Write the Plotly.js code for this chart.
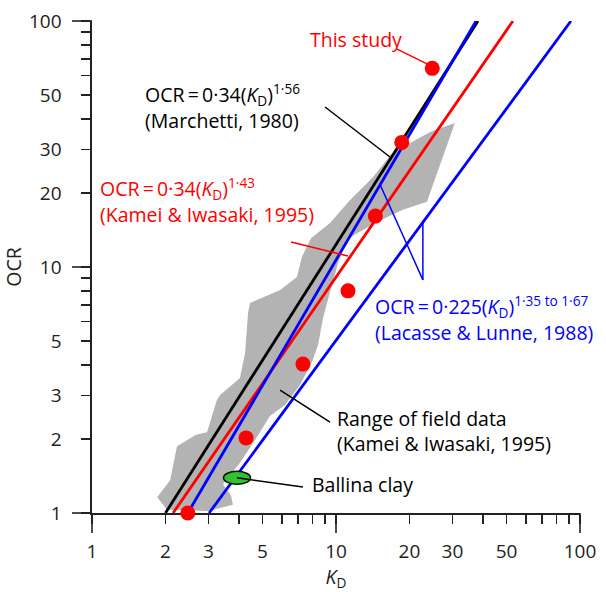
<!DOCTYPE html>
<html><head><meta charset="utf-8">
<script src="https://cdn.plot.ly/plotly-3.0.1.min.js"></script>
<style>html,body{margin:0;padding:0;background:#fff}#chart{width:606px;height:592px}</style>
</head><body><div id="chart"></div>
<script>
// Range of field data (Kamei & Iwasaki, 1995) – outline of grey band
const fieldRangeKD = [1.85, 2.03, 2.99, 3.78, 3.71, 3.44, 4.04, 4.66, 5.36, 6.18, 7.12, 7.97, 8.44, 8.85, 9.45, 10.2, 11.1, 12.0, 15.2, 18.8, 23.6, 30.7, 24.3, 17.0, 14.2, 11.4, 9.45, 7.90, 7.25, 6.92, 5.90, 4.97, 4.44, 4.36, 4.24, 4.04, 3.35, 3.25, 3.10, 2.96, 2.67, 2.23, 2.09];
const fieldRangeOCR = [1.16, 1.03, 1.02, 1.08, 1.18, 1.31, 1.60, 1.98, 2.48, 2.75, 3.31, 4.11, 4.82, 6.20, 7.91, 10.4, 12.9, 13.6, 15.5, 17.1, 18.4, 38.5, 35.4, 29.1, 23.2, 18.7, 15.1, 13.1, 11.0, 9.11, 8.06, 7.48, 7.14, 6.50, 4.47, 3.54, 3.02, 2.88, 2.46, 2.13, 2.08, 1.87, 1.36];

// Correlation lines (end points)
const marchettiKD = [2.0, 38.2];
const marchettiOCR = [1, 100];
const kameiKD = [2.15, 53.1];
const kameiOCR = [1, 100];
const lacasseSteepKD = [2.47, 37.5];
const lacasseSteepOCR = [1, 100];
const lacasseFlatKD = [3.02, 91.8];
const lacasseFlatOCR = [1, 100];

// This study
const thisStudyKD = [2.47, 4.28, 7.32, 11.2, 14.5, 18.6, 24.8];
const thisStudyOCR = [1.0, 2.02, 4.03, 8.0, 16.1, 32.1, 64.2];

// Ballina clay
const ballinaKD = [3.93];
const ballinaOCR = [1.39];

// Ticks
const axisTickVals = [1,2,3,4,5,6,7,8,9,10,20,30,40,50,60,70,80,90,100];
const axisTickText = ['1','2','3','','5','','','','','10','20','30','','50','','','','','100'];
const decadeTicks = [1, 10, 100];

// Leader lines [KD, OCR] pairs
const leaderThisStudyKD = [17.8, 23.6];
const leaderThisStudyOCR = [76.9, 66.9];
const leaderMarchettiKD = [9.02, 16.65];
const leaderMarchettiOCR = [44.7, 28.0];
const leaderKameiKD = [6.54, 11.2];
const leaderKameiOCR = [12.64, 11.08];
const leaderLacasseKD = [15.2, 22.7, 22.7];
const leaderLacasseOCR = [21.5, 8.86, 15.4];
const leaderFieldKD = [5.9, 9.45];
const leaderFieldOCR = [3.16, 2.34];
const leaderBallinaKD = [3.93, 7.32];
const leaderBallinaOCR = [1.39, 1.275];

const RED = '#ff0000', BLUE = '#0000ff', BLACK = '#000000', AX = '#222222';
const FONT = 'Open Sans, sans-serif';
const plotW = 488, plotH = 492;
const pxPerDecadeX = 244, pxPerDecadeY = 246;

const traces = [
  {x: fieldRangeKD, y: fieldRangeOCR, mode: 'lines', fill: 'toself', fillcolor: '#b3b3b3', line: {width: 0, color: '#b3b3b3'}, hoverinfo: 'skip'},
  {x: marchettiKD, y: marchettiOCR, mode: 'lines', line: {color: BLACK, width: 2.8}},
  {x: kameiKD, y: kameiOCR, mode: 'lines', line: {color: RED, width: 2.8}},
  {x: lacasseSteepKD, y: lacasseSteepOCR, mode: 'lines', line: {color: BLUE, width: 2.8}},
  {x: lacasseFlatKD, y: lacasseFlatOCR, mode: 'lines', line: {color: BLUE, width: 2.8}},
  {x: thisStudyKD, y: thisStudyOCR, mode: 'markers', marker: {color: RED, size: 15}, cliponaxis: false}
];

function seg(xs, ys, color, w) {
  const out = [];
  for (let i = 0; i < xs.length - 1; i++) {
    out.push({type: 'line', xref: 'x', yref: 'y', x0: xs[i], y0: ys[i], x1: xs[i+1], y1: ys[i+1], line: {color: color, width: w}, layer: 'above'});
  }
  return out;
}

const shapes = [];
decadeTicks.forEach(v => {
  const p = Math.log10(v) / 2;
  shapes.push({type: 'line', xref: 'paper', yref: 'paper', x0: p, x1: p, y0: 0, y1: -20 / plotH, line: {color: AX, width: 1.6}});
  shapes.push({type: 'line', xref: 'paper', yref: 'paper', y0: p, y1: p, x0: 0, x1: -20 / plotW, line: {color: AX, width: 1.6}});
});
shapes.push(...seg(leaderThisStudyKD, leaderThisStudyOCR, RED, 1.5));
shapes.push(...seg(leaderMarchettiKD, leaderMarchettiOCR, BLACK, 1.5));
shapes.push(...seg(leaderKameiKD, leaderKameiOCR, RED, 1.5));
shapes.push(...seg(leaderLacasseKD, leaderLacasseOCR, BLUE, 1.5));
shapes.push(...seg(leaderFieldKD, leaderFieldOCR, BLACK, 1.5));
// Ballina clay ellipse: ~27 px wide, 13 px tall around the data point
const ellHalfW = 13.5, ellHalfH = 6.5;
const fx = Math.pow(10, ellHalfW / pxPerDecadeX), fy = Math.pow(10, ellHalfH / pxPerDecadeY);
shapes.push({type: 'circle', xref: 'x', yref: 'y',
  x0: ballinaKD[0] / fx, x1: ballinaKD[0] * fx, y0: ballinaOCR[0] / fy, y1: ballinaOCR[0] * fy,
  fillcolor: '#2fc42f', line: {color: '#111', width: 1.5}, layer: 'above'});
shapes.push(...seg(leaderBallinaKD, leaderBallinaOCR, BLACK, 1.5));

function ann(px, py, text, color) {
  return {xref: 'x', yref: 'y', x: (px - 92) / 244, y: (513 - py) / 246, text: text, showarrow: false,
    xanchor: 'left', yanchor: 'middle', align: 'left', font: {family: FONT, size: 19.5, color: color}};
}
const annotations = [
  Object.assign(ann(356, 39, 'This study', RED), {xanchor: 'center'}),
  ann(143, 106, 'OCR\u2009=\u20090·34(<i>K</i><sub>D</sub>)<sup>1·56</sup><br>(Marchetti, 1980)', BLACK),
  ann(98, 200, 'OCR\u2009=\u20090·34(<i>K</i><sub>D</sub>)<sup>1·43</sup><br>(Kamei &amp; Iwasaki, 1995)', RED),
  ann(373, 318, 'OCR\u2009=\u20090·225(<i>K</i><sub>D</sub>)<sup>1·35 to 1·67</sup><br>(Lacasse &amp; Lunne, 1988)', BLUE),
  ann(335, 431, 'Range of field data<br>(Kamei &amp; Iwasaki, 1995)', BLACK),
  ann(310, 484, 'Ballina clay', BLACK)
];

const axisCommon = {
  type: 'log', range: [0, 2], tickmode: 'array', tickvals: axisTickVals, ticktext: axisTickText,
  ticks: 'outside', ticklen: 9, tickwidth: 1.6, tickcolor: AX,
  showline: true, linecolor: AX, linewidth: 1.6, showgrid: false, zeroline: false,
  tickfont: {family: FONT, size: 19, color: AX}, layer: 'below traces', fixedrange: true
};

const layout = {
  width: 606, height: 592,
  margin: {l: 92, r: 26, t: 21, b: 79},
  paper_bgcolor: '#fff', plot_bgcolor: '#fff',
  showlegend: false,
  font: {family: FONT, color: AX},
  xaxis: Object.assign({}, axisCommon, {ticklabelstandoff: 12,
    title: {text: '<i>K</i><sub>D</sub>', font: {family: FONT, size: 19.5, color: AX}, standoff: 5}}),
  yaxis: Object.assign({}, axisCommon, {ticklabelstandoff: 16,
    title: {text: 'OCR', font: {family: FONT, size: 19.5, color: AX}, standoff: 4}}),
  shapes: shapes,
  annotations: annotations
};

Plotly.newPlot('chart', traces, layout, {displayModeBar: false, staticPlot: true});
</script>
</body></html>
